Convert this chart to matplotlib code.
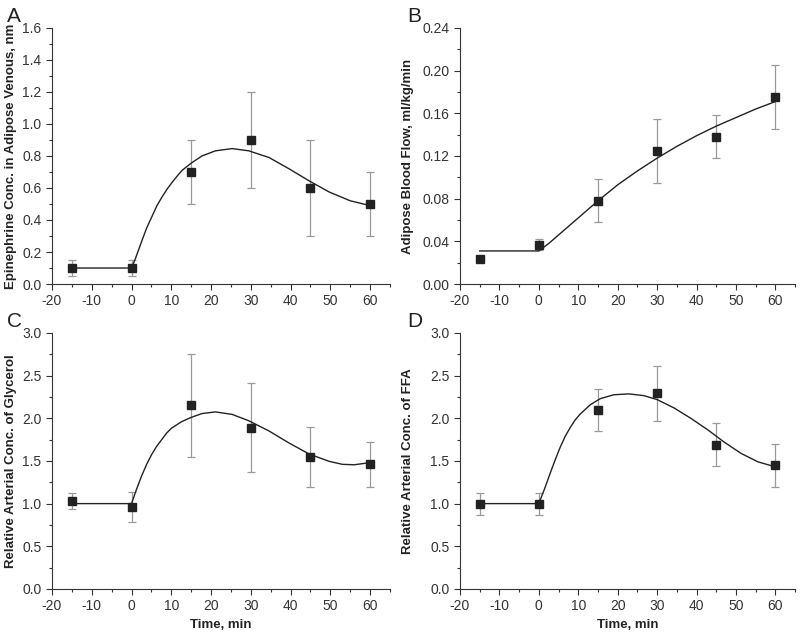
import numpy as np
import matplotlib
matplotlib.use("Agg")
import matplotlib.pyplot as plt
from matplotlib.ticker import MultipleLocator, FormatStrFormatter

plt.rcParams.update({
    "font.family": ["Liberation Sans", "DejaVu Sans"],
    "font.size": 9.5,
    "axes.linewidth": 0.8,
    "axes.edgecolor": "#333333",
    "xtick.color": "#333333",
    "ytick.color": "#333333",
    "axes.unicode_minus": False,
})

# ---------- Data ----------
time = [-15, 0, 15, 30, 45, 60]

epi_mean = [0.10, 0.10, 0.70, 0.90, 0.60, 0.50]
epi_err = [0.05, 0.05, 0.20, 0.30, 0.30, 0.20]
epi_fit_x = [-15, 0, 1, 2.6, 3.8, 5.1, 6.4, 7.7, 9, 10.2, 11.5, 12.7, 15, 17.7, 21.1, 25.3, 29.5,
             34.6, 39.6, 44.7, 49.7, 55, 60]
epi_fit_y = [0.10, 0.10, 0.16, 0.27, 0.35, 0.42, 0.49, 0.545, 0.595, 0.635, 0.675, 0.71, 0.755,
             0.80, 0.832, 0.846, 0.832, 0.79, 0.72, 0.644, 0.575, 0.52, 0.49]

flow_mean = [0.023, 0.037, 0.078, 0.125, 0.138, 0.175]
flow_err = [0.0, 0.005, 0.020, 0.030, 0.020, 0.030]
flow_fit_x = [-15, 0, 2.5, 5, 7.5, 10, 15, 20, 25, 30, 35, 40, 45, 50, 55, 60]
flow_fit_y = [0.031, 0.031, 0.038, 0.046, 0.054, 0.062, 0.078, 0.093, 0.106, 0.118, 0.129,
              0.139, 0.148, 0.156, 0.164, 0.171]

gly_mean = [1.03, 0.96, 2.15, 1.89, 1.55, 1.46]
gly_err = [0.09, 0.175, 0.60, 0.52, 0.35, 0.26]
gly_fit_x = [-15, 0, 1.2, 2.5, 3.8, 5.05, 6.3, 7.6, 8.8, 10.1, 12.6, 15, 17.75, 21.1, 25.3, 29.5,
             34.6, 39.6, 44.7, 49.7, 53, 56, 60]
gly_fit_y = [1.00, 1.00, 1.16, 1.32, 1.46, 1.574, 1.67, 1.75, 1.825, 1.885, 1.96, 2.01, 2.055,
             2.074, 2.045, 1.97, 1.85, 1.71, 1.58, 1.495, 1.46, 1.455, 1.48]

ffa_mean = [1.00, 1.00, 2.10, 2.29, 1.69, 1.45]
ffa_err = [0.13, 0.13, 0.245, 0.325, 0.255, 0.25]
ffa_fit_x = [-15, 0, 1.5, 2.9, 4.2, 5.45, 6.7, 8.0, 9.2, 10.5, 13.1, 15.6, 19, 22.8, 26.6, 30,
             34.3, 38.5, 42.8, 47, 51.2, 55.5, 60]
ffa_fit_y = [1.00, 1.00, 1.18, 1.36, 1.52, 1.665, 1.79, 1.895, 1.98, 2.05, 2.16, 2.23, 2.275,
             2.285, 2.265, 2.218, 2.12, 2.0, 1.865, 1.72, 1.59, 1.49, 1.43]

panels = [
    ("A", epi_mean, epi_err, epi_fit_x, epi_fit_y, (0, 1.6), 0.2, "%.1f",
     "Epinephrine Conc. in Adipose Venous, nm"),
    ("B", flow_mean, flow_err, flow_fit_x, flow_fit_y, (0, 0.24), 0.04, "%.2f",
     "Adipose Blood Flow, ml/kg/min"),
    ("C", gly_mean, gly_err, gly_fit_x, gly_fit_y, (0, 3.0), 0.5, "%.1f",
     "Relative Arterial Conc. of Glycerol"),
    ("D", ffa_mean, ffa_err, ffa_fit_x, ffa_fit_y, (0, 3.0), 0.5, "%.1f",
     "Relative Arterial Conc. of FFA"),
]

# axes rectangles in figure fractions
rects = [
    [0.065, 0.552, 0.4225, 0.404],
    [0.575, 0.552, 0.419, 0.404],
    [0.065, 0.071, 0.4225, 0.404],
    [0.575, 0.071, 0.419, 0.404],
]
label_x = [-0.104, -0.137, -0.104, -0.137]
# panel letter positions (figure fractions, top-left)
letter_pos = [(0.009, 0.989), (0.509, 0.989), (0.009, 0.508), (0.509, 0.508)]

fig = plt.figure(figsize=(8, 6.34), dpi=100)

for i, (letter, mean, err, fx, fy, ylim, ystep, yfmt, ylabel) in enumerate(panels):
    ax = fig.add_axes(rects[i])
    ax.plot(fx, fy, color="#222222", lw=1.0, zorder=2)
    ax.errorbar(time, mean, yerr=err, fmt="none", ecolor="#999999",
                elinewidth=0.9, capsize=3, capthick=0.9, zorder=1)
    ax.plot(time, mean, "s", color="#222222", ms=6, zorder=3)

    ax.set_xlim(-20, 65)
    ax.set_ylim(*ylim)
    ax.xaxis.set_minor_locator(MultipleLocator(5))
    ax.set_xticks(np.arange(-20, 61, 10))
    ax.yaxis.set_major_locator(MultipleLocator(ystep))
    ax.yaxis.set_minor_locator(MultipleLocator(ystep / 2))
    ax.yaxis.set_major_formatter(FormatStrFormatter(yfmt))

    for side in ["top", "right"]:
        ax.spines[side].set_visible(False)
    ax.tick_params(which="major", direction="out", length=4, width=0.8, labelsize=10)
    ax.tick_params(which="minor", direction="out", length=2.5, width=0.8)

    ax.set_ylabel(ylabel, fontsize=9.5, fontweight="bold", color="#222222")
    ax.yaxis.set_label_coords(label_x[i], 0.5)
    if i >= 2:
        ax.set_xlabel("Time, min", fontsize=9.5, fontweight="bold", color="#222222", labelpad=4)

    fig.text(letter_pos[i][0], letter_pos[i][1], letter,
             fontsize=15, color="#222222", ha="left", va="top")

plt.savefig("out.png", dpi=100)
plt.close(fig)
